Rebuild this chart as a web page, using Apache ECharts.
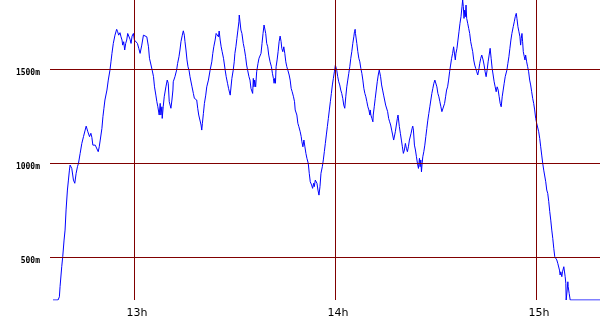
<!DOCTYPE html>
<html><head><meta charset="utf-8">
<script src="https://cdn.jsdelivr.net/npm/echarts@6/dist/echarts.min.js"></script>
<style>html,body{margin:0;padding:0;background:#fff}#c{width:600px;height:330px}</style>
</head><body><div id="c"></div>
<script>
// time in minutes since midnight
const times = [755.8,757.3,757.7,757.9,758.4,758.7,759.1,759.4,759.7,760.1,760.4,760.7,760.9,761.1,761.4,761.9,762.3,762.7,763.1,763.4,763.9,764.4,764.9,765.4,765.7,765.9,766.2,766.7,767.1,767.4,767.7,768.1,768.4,768.9,769.3,769.6,769.9,770.4,770.7,771.0,771.3,771.9,772.3,772.8,773.1,773.4,773.8,774.3,774.8,775.1,775.4,775.8,776.1,776.4,776.6,776.9,777.2,777.5,777.8,778.1,778.4,778.8,779.1,779.4,779.8,780.1,780.6,781.0,781.4,781.8,
782.3,782.8,783.3,783.8,784.0,784.3,784.6,784.8,785.1,785.4,785.8,786.1,786.5,786.8,787.1,787.5,787.8,788.0,788.3,788.4,788.7,789.0,789.5,789.9,790.2,790.5,791.0,791.3,791.6,791.7,792.2,792.7,793.0,793.4,793.7,794.0,794.4,794.7,795.0,795.2,795.5,795.8,796.1,796.4,796.7,797.0,797.3,797.7,798.0,798.4,798.7,799.0,799.3,799.7,800.0,800.2,800.4,800.7,801.0,801.4,801.7,802.2,802.7,803.2,803.5,803.8,804.2,804.5,804.9,805.2,805.4,805.7,806.0,806.3,806.7,807.2,807.5,807.9,808.2,808.5,808.7,
809.2,809.6,809.9,810.1,810.4,810.7,811.0,811.3,811.4,811.7,811.9,812.2,812.6,812.9,813.3,813.6,813.9,814.3,814.6,814.9,815.2,815.4,815.6,815.8,816.0,816.3,816.6,817.0,817.3,817.6,817.9,818.2,818.5,818.8,819.0,819.3,819.6,819.9,820.2,820.6,821.0,821.3,821.6,821.8,822.0,822.2,822.4,822.7,823.0,823.3,823.6,823.9,824.1,824.4,824.7,825.0,825.3,825.6,825.9,826.3,826.6,826.9,827.2,827.6,827.9,828.1,828.6,828.9,829.2,829.6,829.9,830.1,830.4,830.7,831.0,831.3,831.6,832.0,832.3,832.6,833.0,833.3,833.6,833.8,834.1,834.4,834.6,834.9,835.2,
835.5,835.8,836.2,836.5,836.8,837.1,837.4,837.7,838.0,838.3,838.6,838.9,839.2,839.5,839.8,840.1,840.3,840.5,840.8,841.1,841.4,841.7,842.0,842.3,842.6,842.9,843.2,843.5,843.8,844.1,844.4,844.7,845.0,845.3,845.6,845.8,846.0,846.1,846.5,846.8,847.1,847.4,847.7,848.0,848.3,848.6,848.9,849.2,849.5,849.8,850.1,850.4,850.5,850.7,851.0,851.3,851.4,851.7,852.0,852.3,852.6,852.9,853.2,853.4,853.6,853.9,854.2,854.5,854.8,855.1,855.4,855.7,856.0,856.3,856.6,856.9,857.2,857.5,857.8,858.0,858.3,858.6,858.8,859.0,859.2,859.5,859.8,860.1,860.4,860.7,861.0,861.3,861.6,861.9,862.2,
862.4,862.7,863.0,863.2,863.4,863.7,864.0,864.3,864.6,864.9,865.2,865.4,865.6,865.8,866.0,866.2,866.5,866.8,867.1,867.4,867.7,868.0,868.3,868.6,868.9,869.2,869.5,869.8,870.1,870.4,870.7,871.0,871.3,871.6,871.9,872.1,872.4,872.7,873.0,873.3,873.6,873.9,874.2,874.5,874.8,875.1,875.4,875.7,875.9,876.1,876.4,876.7,877.0,877.3,877.6,877.9,878.1,878.3,878.5,878.7,878.9,879.1,879.3,879.6,879.9,880.2,880.5,880.8,881.1,881.4,881.7,882.0,882.3,882.6,882.9,883.2,883.5,883.8,884.0,884.2,884.5,884.8,885.1,885.4,885.7,886.0,886.3,886.6,886.9,887.2,887.5,887.8,888.1,888.4,888.7,889.0,
889.3,889.6,889.9,890.2,890.5,890.8,891.3,891.6,891.9,892.2,892.5,892.8,893.2,893.5,893.8,894.1,894.3,894.6,894.9,895.2,895.4,895.6,895.8,896.0,896.2,896.5,896.7,896.9,897.2,897.5,897.8,898.1,898.4,898.7,899.0,899.3,899.6,899.9,900.2,900.5,900.8,901.1,901.4,901.7,902.0,902.3,902.6,902.9,903.2,903.5,903.8,904.1,904.4,904.7,905.0,905.3,905.6,905.9,906.2,906.5,906.8,907.0,907.2,907.4,907.7,907.9,908.1,908.3,908.5,908.7,908.9,909.0,909.3,909.5,909.6,909.9,910.2,919.1];
// altitude in metres
const altitudes = [273,273,290,344,450,503,592,645,752,858,911,964,991,996,973,911,894,947,982,1000,1053,1106,1142,1177,1198,1198,1168,1142,1160,1138,1097,1106,1097,1088,1062,1088,1124,1186,1248,1293,1337,1390,1443,1496,1540,1585,1638,1682,1713,1700,1682,1695,1673,1656,1629,1647,1603,1638,1656,1691,1695,1660,1638,1677,1691,1656,1656,1638,1612,1585,
1629,1682,1686,1673,1665,1620,1559,1550,1567,1496,1461,1407,1363,1328,1301,1257,1319,1257,1301,1239,1301,1354,1407,1443,1426,1328,1293,1337,1390,1434,1461,1496,1532,1567,1603,1647,1682,1705,1682,1647,1603,1550,1514,1496,1461,1452,1407,1372,1346,1354,1337,1293,1257,1248,1204,1177,1213,1266,1319,1363,1407,1443,1496,1540,1585,1620,1656,1691,1700,1673,1704,1656,1620,1594,1559,1496,1461,1426,1399,1390,1363,
1452,1496,1540,1585,1620,1665,1709,1753,1789,1780,1709,1691,1638,1612,1567,1523,1496,1461,1443,1399,1390,1372,1452,1407,1443,1407,1487,1532,1559,1567,1585,1638,1691,1736,1745,1691,1638,1620,1576,1540,1514,1479,1452,1426,1452,1426,1514,1550,1594,1647,1677,1647,1612,1594,1620,1585,1540,1514,1496,1470,1443,1399,1381,1354,1328,1284,1257,1213,1195,1168,1142,1115,1088,1124,1088,1053,1027,1000,947,902,885,867,894,876,911,902,894,858,831,
876,947,982,1018,1062,1106,1151,1195,1239,1284,1328,1372,1417,1452,1487,1523,1532,1496,1461,1434,1417,1390,1372,1346,1310,1293,1354,1407,1443,1479,1514,1559,1594,1638,1673,1700,1713,1691,1638,1594,1559,1540,1505,1479,1443,1399,1372,1354,1328,1301,1284,1257,1284,1257,1239,1221,1257,1301,1346,1390,1434,1470,1496,1496,1461,1417,1390,1363,1337,1310,1301,1275,1239,1221,1204,1177,1151,1124,1115,1168,1204,1239,1257,1248,1195,1160,1124,1088,1053,1071,1106,1080,1062,1088,1124,
1133,1160,1186,1198,1177,1097,1071,1035,1000,973,1027,982,1018,955,1000,1035,1062,1097,1142,1186,1230,1266,1301,1337,1372,1399,1426,1443,1434,1407,1372,1354,1328,1301,1275,1266,1284,1319,1354,1390,1407,1443,1487,1523,1559,1585,1620,1612,1550,1585,1612,1656,1700,1745,1780,1833,1869,1833,1771,1815,1780,1842,1771,1745,1718,1691,1647,1620,1594,1550,1523,1505,1487,1470,1496,1532,1559,1576,1585,1550,1523,1487,1461,1496,1540,1576,1612,1559,1505,1470,1434,1407,1381,1407,1390,1354,
1319,1301,1354,1390,1426,1461,1496,1532,1567,1612,1656,1691,1727,1753,1780,1798,1771,1727,1700,1673,1629,1665,1691,1647,1594,1567,1550,1576,1540,1514,1487,1443,1417,1381,1346,1319,1284,1239,1213,1204,1168,1133,1088,1044,1000,964,955,902,858,840,796,743,698,645,601,548,503,495,486,468,459,432,406,423,397,423,415,450,459,397,362,273,326,370,344,308,273,273];
const yTicks = [500, 1000, 1500];
const yTickLabels = ['500m', '1000m', '1500m'];
const xTicks = [780, 840, 900];
const xTickLabels = ['13h', '14h', '15h'];

const chart = echarts.init(document.getElementById('c'), null, {renderer: 'canvas'});
const pts = times.map((t, i) => [t, altitudes[i]]);
chart.setOption({
  animation: false,
  grid: {left: 50, right: 0, top: 0, bottom: 30, containLabel: false},
  xAxis: {type: 'value', min: 754.9, max: 919.1,
    axisLine: {show: false}, axisTick: {show: false}, axisLabel: {show: false}, splitLine: {show: false}},
  yAxis: {type: 'value', min: 273, max: 1869,
    axisLine: {show: false}, axisTick: {show: false}, axisLabel: {show: false}, splitLine: {show: false}},
  series: [
    {type: 'line', data: [], z: 1, silent: true,
      markLine: {symbol: ['none', 'none'], silent: true, animation: false,
        lineStyle: {color: '#800000', width: 1, type: 'solid'},
        data: [
          ...yTicks.map((v, i) => ({yAxis: v, label: {show: true, position: 'start', formatter: yTickLabels[i],
            color: '#000', fontFamily: 'DejaVu Sans Mono', fontSize: 8, fontWeight: 'bold', distance: 10, offset: [0, 4]}})),
          ...xTicks.map((v, i) => ({xAxis: v, label: {show: true, position: 'start', formatter: xTickLabels[i],
            color: '#000', fontFamily: 'DejaVu Sans', fontSize: 11, distance: 8, offset: [3, 0]}}))
        ]}},
    {type: 'line', data: pts, z: 2, showSymbol: false, symbol: 'none', silent: true,
      lineStyle: {color: '#0000ff', width: 1}}
  ]
});
</script></body></html>
